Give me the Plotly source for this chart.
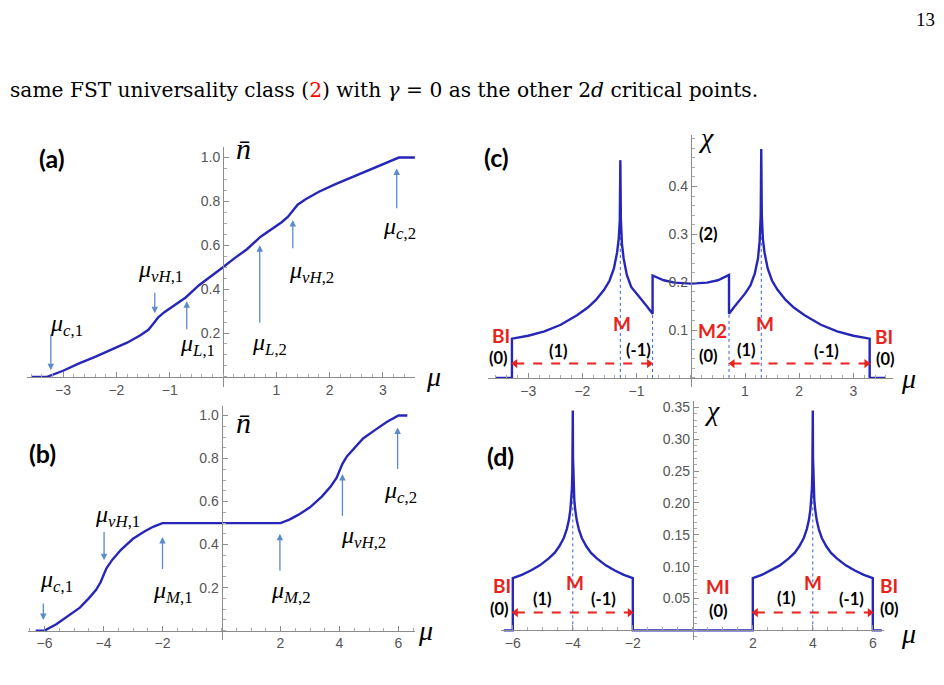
import plotly.graph_objects as go

W, H = 944, 685

# ---------------- data ----------------
# (a) density vs mu
a_mu = [-3.6, -3.3, -3.0, -2.7, -2.4, -2.1, -1.8, -1.55, -1.4, -1.3, -1.22, -1.1, -0.9, -0.7, -0.45, -0.2, 0.0,
        0.2, 0.45, 0.7, 0.9, 1.1, 1.22, 1.3, 1.4, 1.55, 1.8, 2.1, 2.4, 2.7, 3.0, 3.3, 3.6]
a_n = [0.0, 0.0, 0.028, 0.062, 0.091, 0.122, 0.156, 0.19, 0.215, 0.245, 0.27, 0.295, 0.328, 0.362, 0.418, 0.462, 0.5,
       0.538, 0.582, 0.638, 0.672, 0.705, 0.73, 0.755, 0.785, 0.81, 0.844, 0.878, 0.909, 0.94, 0.972, 1.0, 1.0]

# (b) density vs mu
b_mu = [-6.3, -6.0, -5.6, -5.2, -4.8, -4.5, -4.25, -4.1, -4.0, -3.9, -3.7, -3.4, -3.0, -2.6, -2.3, -2.0,
        2.0, 2.3, 2.6, 3.0, 3.4, 3.7, 3.9, 4.0, 4.1, 4.25, 4.5, 4.8, 5.2, 5.6, 6.0, 6.3]
b_n = [0.0, 0.0, 0.03, 0.068, 0.107, 0.15, 0.19, 0.225, 0.257, 0.29, 0.33, 0.377, 0.427, 0.462, 0.484, 0.5,
       0.5, 0.516, 0.538, 0.573, 0.623, 0.67, 0.71, 0.743, 0.775, 0.81, 0.85, 0.893, 0.932, 0.97, 1.0, 1.0]

# (c) susceptibility vs mu
c_mu = [-3.6, -3.3, -3.3, -3.0, -2.7, -2.4, -2.1, -1.9, -1.75, -1.6, -1.5, -1.42, -1.36, -1.33, -1.31, -1.30,
        -1.29, -1.27, -1.24, -1.18, -1.1, -1.0, -0.9, -0.8, -0.705, -0.705, -0.5, -0.3, 0.0, 0.3, 0.5, 0.705,
        0.705, 0.8, 0.9, 1.0, 1.1, 1.18, 1.24, 1.27, 1.29, 1.30, 1.31, 1.33, 1.36, 1.42, 1.5, 1.6, 1.75, 1.9,
        2.1, 2.4, 2.7, 3.0, 3.3, 3.3, 3.6]
c_chi = [0.0, 0.0, 0.082, 0.088, 0.097, 0.111, 0.131, 0.147, 0.163, 0.184, 0.203, 0.228, 0.262, 0.29, 0.33, 0.455,
         0.33, 0.28, 0.25, 0.215, 0.19, 0.175, 0.162, 0.148, 0.134, 0.214, 0.204, 0.199, 0.197, 0.199, 0.204, 0.215,
         0.134, 0.148, 0.162, 0.176, 0.193, 0.218, 0.25, 0.285, 0.34, 0.478, 0.34, 0.29, 0.262, 0.228, 0.203, 0.184,
         0.163, 0.147, 0.131, 0.111, 0.097, 0.088, 0.082, 0.0, 0.0]

# (d) susceptibility vs mu
d_mu = [-6.3, -6.0, -6.0, -5.7, -5.4, -5.1, -4.8, -4.6, -4.45, -4.3, -4.2, -4.13, -4.08, -4.05, -4.03, -4.015,
        -4.007, -4.0, -3.993, -3.985, -3.97, -3.95, -3.92, -3.87, -3.8, -3.7, -3.55, -3.4, -3.2, -2.9, -2.6,
        -2.3, -2.0, -2.0,
        2.0, 2.0, 2.3, 2.6, 2.9, 3.2, 3.4, 3.55, 3.7, 3.8, 3.87, 3.92, 3.95, 3.97, 3.985, 3.993, 4.0, 4.007,
        4.015, 4.03, 4.05, 4.08, 4.13, 4.2, 4.3, 4.45, 4.6, 4.8, 5.1, 5.4, 5.7, 6.0, 6.0, 6.3]
d_chi = [0.0, 0.0, 0.082, 0.087, 0.094, 0.102, 0.113, 0.122, 0.132, 0.145, 0.159, 0.173, 0.19, 0.205, 0.222, 0.246,
         0.271, 0.345, 0.271, 0.246, 0.222, 0.205, 0.19, 0.173, 0.159, 0.145, 0.132, 0.122, 0.113, 0.102, 0.094,
         0.087, 0.082, 0.0,
         0.0, 0.082, 0.087, 0.094, 0.102, 0.113, 0.122, 0.132, 0.145, 0.159, 0.173, 0.19, 0.205, 0.222, 0.246,
         0.271, 0.345, 0.271, 0.246, 0.222, 0.205, 0.19, 0.173, 0.159, 0.145, 0.132, 0.122, 0.113, 0.102, 0.094,
         0.087, 0.082, 0.0, 0.0]

# marker lines (dotted verticals) and region arrows
c_vline_mu = [-1.30, -0.705, 0.705, 1.30]
c_vline_top = [0.455, 0.134, 0.134, 0.478]
d_vline_mu = [-4.0, 4.0]
d_vline_top = [0.345, 0.345]
c_span_y = 0.030
c_spans = [(-3.24, -0.77), (0.77, 3.24)]
d_span_y = 0.028
d_spans = [(-5.9, -2.1), (2.1, 5.9)]

# blue arrows (mu, tip, tail) and their labels
a_arr_mu = [-3.23, -1.28, -0.68, 0.69, 1.31, 3.26]
a_arr_tip = [0.03, 0.29, 0.345, 0.60, 0.715, 0.95]
a_arr_tail = [0.20, 0.39, 0.21, 0.24, 0.58, 0.762]
a_labels = [("c", "1"), ("vH", "1"), ("L", "1"), ("L", "2"), ("vH", "2"), ("c", "2")]
a_label_px = [(66, 324), (160, 270), (197, 344), (269, 343), (311, 271), (399, 227)]

b_arr_mu = [-6.04, -3.98, -2.0, 1.98, 4.1, 5.97]
b_arr_tip = [0.049, 0.327, 0.435, 0.45, 0.728, 0.944]
b_arr_tail = [0.133, 0.466, 0.28, 0.272, 0.527, 0.744]
b_labels = [("c", "1"), ("vH", "1"), ("M", "1"), ("M", "2"), ("vH", "2"), ("c", "2")]
b_label_px = [(56, 581), (117, 516), (173, 592), (291, 592), (363, 537), (400, 491)]

# tick labels
ax_ticks = [-3, -2, -1, 1, 2, 3]
bx_ticks = [-6, -4, -2, 2, 4, 6]
n_ticks = [0.2, 0.4, 0.6, 0.8, 1.0]
c_ticks = [0.1, 0.2, 0.3, 0.4]
d_ticks = [0.05, 0.10, 0.15, 0.20, 0.25, 0.30, 0.35]

# ---------------- style ----------------
BLUE = "#2626b8"
ARROW = "#5b8bc9"
RED = "#e8231c"
AXC = "#8c8c8c"
TICKF = dict(family="Liberation Sans, Arial, sans-serif", size=14, color="#555555")


def P(px, py):
    return px / W, 1 - py / H


fig = go.Figure()

# panel geometry in pixels: x line extent, x origin px, px/unit, y line extent, y origin px, px/unit
panels = {
    "1": dict(xpx=(27, 415), x0=223, xs=53.3, ypx=(145, 386), y0=376, ys=220),      # (a)
    "2": dict(xpx=(28, 415), x0=221.5, xs=29.5, ypx=(405, 640), y0=630.5, ys=215.8),  # (b)
    "3": dict(xpx=(488, 893), x0=690.8, xs=54.2, ypx=(133, 386), y0=377, ys=480),   # (c)
    "4": dict(xpx=(501, 884), x0=692.8, xs=30.0, ypx=(400, 640), y0=630.2, ys=639),  # (d)
}

xticks = {"1": (ax_ticks, 0.2), "2": (bx_ticks, 0.5), "3": (ax_ticks, 0.2), "4": (bx_ticks, 0.5)}
yticks = {"1": (n_ticks, 0.05, "%.1f"), "2": (n_ticks, 0.05, "%.1f"), "3": (c_ticks, 0.02, "%.1f"),
          "4": (d_ticks, 0.01, "%.2f")}

layout_axes = {}
for k, g in panels.items():
    xr = [(g["xpx"][0] - g["x0"]) / g["xs"], (g["xpx"][1] - g["x0"]) / g["xs"]]
    yr = [(g["y0"] - g["ypx"][1]) / g["ys"], (g["y0"] - g["ypx"][0]) / g["ys"]]
    xd = [g["xpx"][0] / W, g["xpx"][1] / W]
    yd = [1 - g["ypx"][1] / H, 1 - g["ypx"][0] / H]
    xv, xminor = xticks[k]
    yv, yminor, yf = yticks[k]
    xn = "xaxis" if k == "1" else "xaxis" + k
    yn = "yaxis" if k == "1" else "yaxis" + k
    layout_axes[xn] = dict(
        domain=xd, range=xr, anchor="free", position=1 - g["y0"] / H,
        showline=True, linecolor=AXC, linewidth=1, showgrid=False, zeroline=False,
        tickmode="array", tickvals=xv, ticktext=[("−%d" % -v) if v < 0 else "%d" % v for v in xv],
        ticks="inside", ticklen=5, tickcolor=AXC, tickfont=TICKF,
        minor=dict(tick0=0, dtick=xminor, ticks="inside", ticklen=3, tickcolor="#aaaaaa", showgrid=False),
        fixedrange=True,
    )
    layout_axes[yn] = dict(
        domain=yd, range=yr, anchor="free", position=g["x0"] / W,
        showline=True, linecolor=AXC, linewidth=1, showgrid=False, zeroline=False,
        tickmode="array", tickvals=yv, ticktext=[yf % v for v in yv],
        ticks="inside", ticklen=5, tickcolor=AXC, tickfont=TICKF,
        minor=dict(tick0=0, dtick=yminor, ticks="inside", ticklen=3, tickcolor="#aaaaaa", showgrid=False),
        fixedrange=True,
    )

# ---------------- traces ----------------
def curve(x, y, k):
    fig.add_trace(go.Scatter(x=x, y=y, mode="lines", line=dict(color=BLUE, width=2.4),
                             xaxis="x" if k == "1" else "x" + k, yaxis="y" if k == "1" else "y" + k,
                             hoverinfo="skip"))


def vlines(mus, tops, k):
    xs, ys = [], []
    for m, t in zip(mus, tops):
        xs += [m, m, None]
        ys += [0, t, None]
    fig.add_trace(go.Scatter(x=xs, y=ys, mode="lines", line=dict(color="#3a5fd0", width=1, dash="dot"),
                             xaxis="x" + k, yaxis="y" + k, hoverinfo="skip"))


def spans(sp, yv, k):
    for a, b in sp:
        fig.add_trace(go.Scatter(x=[a, b], y=[yv, yv], mode="lines+markers",
                                 line=dict(color=RED, width=2, dash="dash"),
                                 marker=dict(symbol=["triangle-left", "triangle-right"], size=8, color=RED),
                                 xaxis="x" + k, yaxis="y" + k, hoverinfo="skip"))


vlines(c_vline_mu, c_vline_top, "3")
vlines(d_vline_mu, d_vline_top, "4")
curve(a_mu, a_n, "1")
curve(b_mu, b_n, "2")
curve(c_mu, c_chi, "3")
curve(d_mu, d_chi, "4")
spans(c_spans, c_span_y, "3")
spans(d_spans, d_span_y, "4")

# ---------------- annotations ----------------
ann = []
SERIF = "Liberation Serif, DejaVu Serif, serif"
SANSB = "Lato, Liberation Sans, sans-serif"


def text(px, py, s, size, color="black", family=SANSB, xanchor="center"):
    x, y = P(px, py)
    ann.append(dict(x=x, y=y, xref="paper", yref="paper", text=s, showarrow=False,
                    font=dict(family=family, size=size, color=color), xanchor=xanchor, yanchor="middle"))


def mu_label(sub, num):
    return "<i>μ</i><sub><i>%s</i>,%s</sub>" % (sub, num)


for k, mus, tips, tails, labs, lpx in [("", a_arr_mu, a_arr_tip, a_arr_tail, a_labels, a_label_px),
                                        ("2", b_arr_mu, b_arr_tip, b_arr_tail, b_labels, b_label_px)]:
    for m, t, tl in zip(mus, tips, tails):
        ann.append(dict(x=m, y=t, ax=m, ay=tl, xref="x" + k, yref="y" + k, axref="x" + k, ayref="y" + k,
                        showarrow=True, arrowhead=2, arrowsize=1, arrowwidth=1.3, arrowcolor=ARROW, text=""))
    for (s, n), (px, py) in zip(labs, lpx):
        text(px, py, mu_label(s, n), 24, family=SERIF)

# panel letters
text(52, 156, "<b>(a)</b>", 25)
text(42, 452, "<b>(b)</b>", 25)
text(496, 155, "<b>(c)</b>", 25)
text(500, 455, "<b>(d)</b>", 25)

# axis labels
text(244, 147, "<i>n̄</i>", 30, family=SERIF)
text(244, 422, "<i>n̄</i>", 30, family=SERIF)
text(433, 376, "<i>μ</i>", 28, family=SERIF)
text(425, 630, "<i>μ</i>", 28, family=SERIF)
text(908, 378, "<i>μ</i>", 28, family=SERIF)
text(908, 633, "<i>μ</i>", 28, family=SERIF)
text(706, 136, "<i>χ</i>", 28, family=SERIF)
text(712, 410, "<i>χ</i>", 28, family=SERIF)

# region labels (c)
for px, py, s in [(501, 334, "BI"), (622, 322, "M"), (712, 329, "M2"), (765, 322, "M"), (884, 335, "BI")]:
    text(px, py, "<b>%s</b>" % s, 19, color=RED)
for px, py, s in [(498, 357, "(0)"), (558, 350, "(1)"), (638, 349, "(-1)"), (708, 233, "(2)"),
                  (708, 355, "(0)"), (746, 349, "(1)"), (826, 350, "(-1)"), (885, 358, "(0)")]:
    text(px, py, "<b>%s</b>" % s, 16.5)
# region labels (d)
for px, py, s in [(502, 585, "BI"), (575, 582, "M"), (718, 586, "MI"), (813, 582, "M"), (889, 585, "BI")]:
    text(px, py, "<b>%s</b>" % s, 19, color=RED)
for px, py, s in [(499, 609, "(0)"), (542, 599, "(1)"), (603, 599, "(-1)"), (718, 611, "(0)"),
                  (786, 598, "(1)"), (851, 599, "(-1)"), (889, 609, "(0)")]:
    text(px, py, "<b>%s</b>" % s, 16.5)

# page text
text(925, 18, "13", 19, family=SERIF)
text(8, 88, "same FST universality class (<span style='color:red'>2</span>) with <i>γ</i> = 0 as the other "
            "2<i>d</i> critical points.", 20.2, family="DejaVu Serif, serif", xanchor="left")

fig.update_layout(width=W, height=H, margin=dict(l=0, r=0, t=0, b=0), paper_bgcolor="white",
                  plot_bgcolor="white", showlegend=False, annotations=ann, **layout_axes)

fig.write_html("out.html")
